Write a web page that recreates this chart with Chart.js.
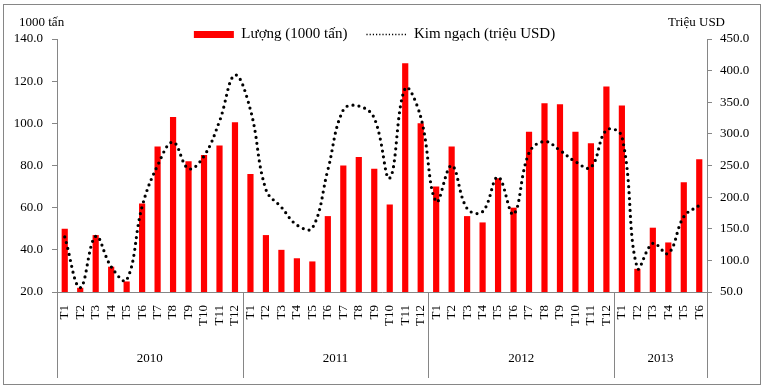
<!DOCTYPE html>
<html><head><meta charset="utf-8">
<script src="https://cdn.jsdelivr.net/npm/chart.js@4/dist/chart.umd.min.js"></script>
<style>html,body{margin:0;padding:0;background:#fff}canvas{display:block}</style>
</head><body>
<canvas id="c" width="765" height="389"></canvas>
<script>
const categories = [
  'T1','T2','T3','T4','T5','T6','T7','T8','T9','T10','T11','T12',
  'T1','T2','T3','T4','T5','T6','T7','T8','T9','T10','T11','T12',
  'T1','T2','T3','T4','T5','T6','T7','T8','T9','T10','T11','T12',
  'T1','T2','T3','T4','T5','T6'
];
const yearLabels = ['2010','2011','2012','2013'];
const yearSpans = [12, 12, 12, 6];
const luong = [
  50, 22, 47, 32, 25, 62, 89, 103, 82, 85, 89.5, 100.5,
  76, 47, 40, 36, 34.5, 56, 80, 84, 78.5, 61.5, 128.5, 100,
  70, 89, 56, 53, 74, 60, 96, 109.5, 109, 96, 90.5, 117.5,
  108.5, 31, 50.5, 43.5, 72, 83
];
const kimNgach = [
  137, 57, 138, 90, 69, 185, 250, 287, 245, 265, 320, 393,
  338, 212, 184, 156, 151, 243, 338, 344, 325, 230, 372, 327,
  193, 250, 182, 177, 232, 173, 270, 288, 274, 256, 247, 306,
  296, 88, 127, 111, 169, 187
];
const seriesNames = ['Lượng (1000 tấn)', 'Kim ngạch (triệu USD)'];
const leftTitle = '1000 tấn';
const rightTitle = 'Triệu USD';

const AXIS = '#868686';
const FONT = '"Liberation Serif", "Times New Roman", serif';
Chart.defaults.font.family = FONT;
Chart.defaults.font.size = 13;
Chart.defaults.color = '#000';

const framePlugin = {
  id: 'frame',
  afterDraw(chart) {
    const {ctx, scales: {x}, chartArea} = chart;
    ctx.save();
    ctx.strokeStyle = AXIS;
    ctx.lineWidth = 1;
    ctx.strokeRect(3.5, 4.5, 757, 380);
    const half = (x.getPixelForValue(1) - x.getPixelForValue(0)) / 2;
    const yTop = chartArea.bottom, yBot = 378;
    ctx.font = '13px ' + FONT;
    ctx.fillStyle = '#000';
    ctx.textAlign = 'center';
    ctx.textBaseline = 'middle';
    let start = 0;
    const edges = [];
    yearLabels.forEach((yr, i) => {
      const l = x.getPixelForValue(start) - half;
      const r = x.getPixelForValue(start + yearSpans[i] - 1) + half;
      if (i === 0) edges.push(l);
      edges.push(r);
      ctx.fillText(yr, (l + r) / 2, 359);
      start += yearSpans[i];
    });
    ctx.beginPath();
    edges.forEach(e => {
      const xe = Math.round(e) + 0.5;
      ctx.moveTo(xe, yTop);
      ctx.lineTo(xe, yBot);
    });
    ctx.stroke();
    ctx.textAlign = 'left';
    ctx.fillText(leftTitle, 19, 23);
    ctx.textAlign = 'right';
    ctx.fillText(rightTitle, 725, 23);
    ctx.restore();
  }
};

const legendShift = {
  id: 'legendShift',
  afterLayout(chart) {
    const l = chart.legend;
    if (!l) return;
    l.top += 13; l.bottom += 13;
    l.left -= 8; l.right -= 8;
  }
};

new Chart(document.getElementById('c'), {
  type: 'bar',
  data: {
    labels: categories,
    datasets: [
      {
        type: 'bar',
        label: seriesNames[0],
        data: luong,
        backgroundColor: '#F00',
        borderWidth: 0,
        yAxisID: 'y',
        categoryPercentage: 1,
        barPercentage: 0.4,
        order: 1
      },
      {
        type: 'line',
        label: seriesNames[1],
        data: kimNgach,
        borderColor: '#000',
        borderWidth: 3.2,
        borderDash: [0, 6],
        borderCapStyle: 'round',
        pointRadius: 0,
        tension: 0.4,
        fill: false,
        yAxisID: 'y1',
        order: 0
      }
    ]
  },
  options: {
    responsive: false,
    animation: false,
    devicePixelRatio: 1,
    layout: { padding: { top: -5, left: 0, right: 0, bottom: 0 } },
    plugins: {
      tooltip: { enabled: false },
      legend: {
        position: 'top',
        labels: {
          usePointStyle: true,
          pointStyleWidth: 40,
          boxWidth: 40,
          boxHeight: 7,
          padding: 19,
          font: { size: 15, family: FONT },
          color: '#000',
          sort: (a, b) => a.datasetIndex - b.datasetIndex,
          generateLabels(chart) {
            const items = Chart.defaults.plugins.legend.labels.generateLabels(chart);
            items.forEach(it => {
              if (it.datasetIndex === 0) {
                it.pointStyle = 'rect';
                it.fillStyle = '#F00';
                it.strokeStyle = '#F00';
                it.lineWidth = 0;
                it.lineDash = [];
              } else {
                it.pointStyle = 'line';
                it.strokeStyle = '#000';
                it.fillStyle = 'rgba(0,0,0,0)';
                it.lineWidth = 1.5;
                it.lineDash = [1.2, 2];
                it.lineCap = 'butt';
              }
            });
            return items;
          }
        }
      }
    },
    scales: {
      x: {
        type: 'category',
        offset: true,
        grid: { display: false, drawTicks: false },
        border: { display: true, color: AXIS },
        ticks: { autoSkip: false, maxRotation: 90, minRotation: 90, padding: 13, font: { size: 13 } },
        afterFit(s) { s.height = 97; }
      },
      y: {
        position: 'left',
        min: 20, max: 140,
        ticks: { stepSize: 20, padding: 9, callback: v => Number(v).toFixed(1) },
        grid: { drawOnChartArea: false, tickLength: 5, color: AXIS },
        border: { display: true, color: AXIS },
        afterFit(s) { s.width = 57; }
      },
      y1: {
        position: 'right',
        min: 50, max: 450,
        ticks: { stepSize: 50, padding: 8, callback: v => Number(v).toFixed(1) },
        grid: { drawOnChartArea: false, tickLength: 5, color: AXIS },
        border: { display: true, color: AXIS },
        afterFit(s) { s.width = 58; }
      }
    }
  },
  plugins: [framePlugin, legendShift]
});
</script>
</body></html>
